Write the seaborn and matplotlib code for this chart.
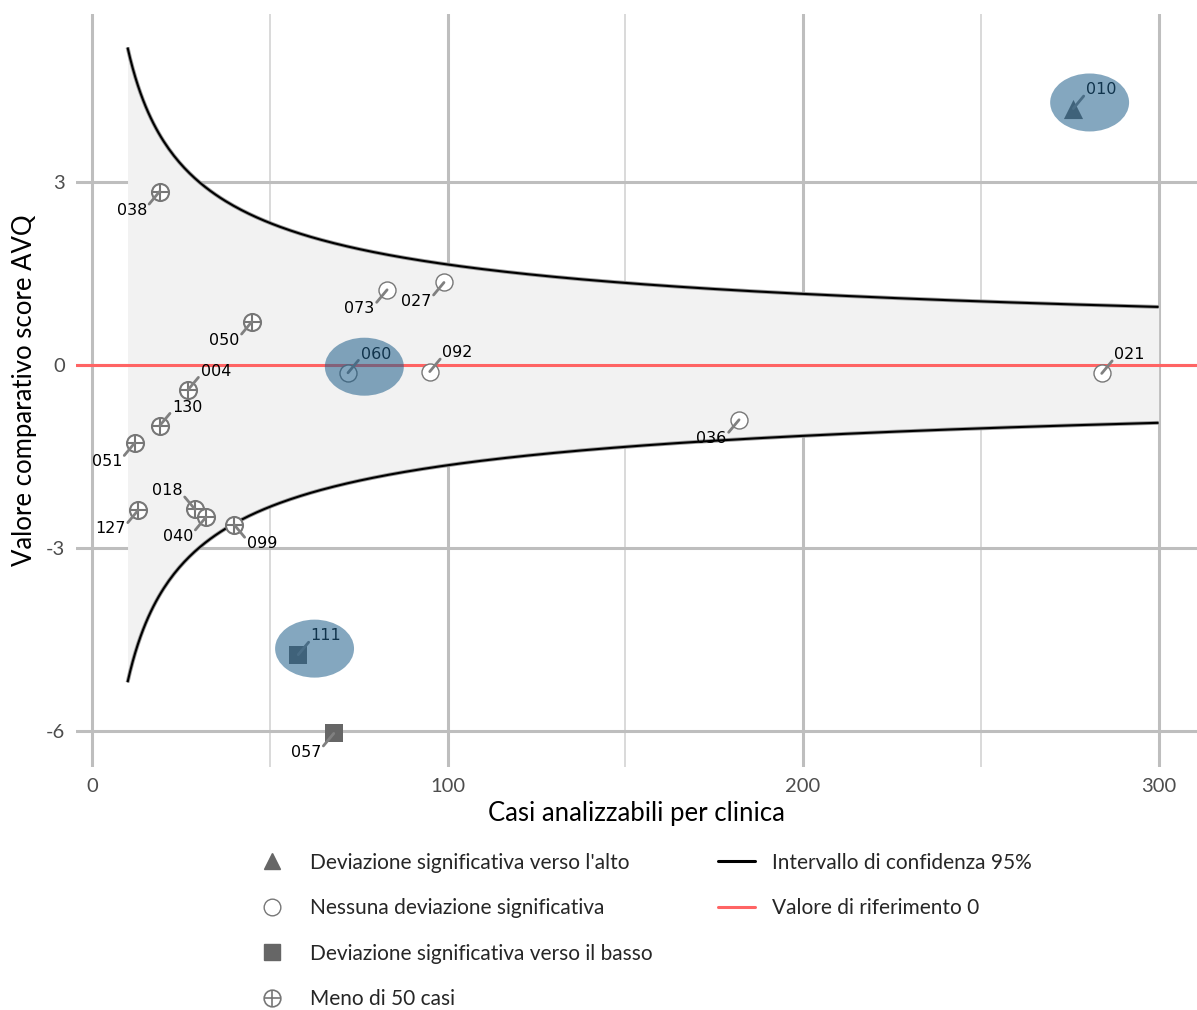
"""Funnel plot: AVQ comparative score per clinic vs analysable cases."""
import numpy as np
import pandas as pd
import matplotlib
matplotlib.use("Agg")
import matplotlib.pyplot as plt
from matplotlib.lines import Line2D
from matplotlib.patches import Ellipse
import seaborn as sns

# --- data ---
clinic_ids = ["038", "050", "004", "130", "051", "127", "018", "040", "099",
              "073", "027", "060", "092", "036", "021", "010", "111", "057"]
cases = [19, 45, 27, 19, 12, 13, 29, 32, 40,
         83, 99, 72, 95, 182, 284, 276, 58, 68]
scores = [2.84, 0.71, -0.41, -1.0, -1.28, -2.38, -2.37, -2.50, -2.62,
          1.23, 1.35, -0.13, -0.11, -0.90, -0.14, 4.20, -4.75, -6.04]
groups = ["meno50"] * 9 + ["nessuna"] * 6 + ["alto", "basso", "basso"]
label_dir = ["ll", "ll", "ur", "ur", "ll", "ll", "ul", "ll", "lr",
             "ll", "ll", "ur", "ur", "ll", "ur", "ur", "ur", "ll"]
highlighted = ["060", "010", "111"]
ci_const = 16.45          # 1.96 * sd, half-width of the 95% band at n=1
n_min, n_max = 10, 300
ref_value = 0

df = pd.DataFrame({"id": clinic_ids, "n": cases, "score": scores, "gruppo": groups, "dir": label_dir})

sns.set_theme(style="whitegrid")
plt.rcParams["font.family"] = ["Lato", "DejaVu Sans"]
plt.rcParams["axes.unicode_minus"] = False

fig = plt.figure(figsize=(11.97, 10.10), dpi=100)
ax = fig.add_axes([76 / 1197, 1 - 767 / 1010, 1 - 76 / 1197, (767 - 14) / 1010])

# funnel band
nn = np.linspace(n_min, n_max, 400)
half = ci_const / np.sqrt(nn)
ax.fill_between(nn, -half, half, color="#f2f2f2", lw=0, zorder=1)
for sgn in (1, -1):
    ax.plot(nn, sgn * half, color="#9a9a9a", lw=2.8, zorder=2, solid_capstyle="butt")
    ax.plot(nn, sgn * half, color="black", lw=1.5, zorder=3, solid_capstyle="butt")
ax.axhline(ref_value, color="#ff6464", lw=2.2, zorder=3)

# points
grey = "#666666"
sub = df[df.gruppo == "meno50"]
sns.scatterplot(data=sub, x="n", y="score", marker="o", s=150, color="white",
                edgecolor="#777777", linewidth=1.5, ax=ax, zorder=5)
sns.scatterplot(data=sub, x="n", y="score", marker="+", s=150, color="#777777",
                linewidth=1.5, ax=ax, zorder=6)
sub = df[df.gruppo == "nessuna"]
sns.scatterplot(data=sub, x="n", y="score", marker="o", s=150, color="white",
                edgecolor="#777777", linewidth=1.0, ax=ax, zorder=5)
sub = df[df.gruppo == "alto"]
sns.scatterplot(data=sub, x="n", y="score", marker="^", s=190, color=grey,
                edgecolor=grey, linewidth=0, ax=ax, zorder=5)
sub = df[df.gruppo == "basso"]
sns.scatterplot(data=sub, x="n", y="score", marker="s", s=160, color=grey,
                edgecolor=grey, linewidth=0, ax=ax, zorder=5)

# labels with short leader lines
offs = {"ll": (-1, -1), "ur": (1, 1), "ul": (-1, 1), "lr": (1, -1)}
for _, r in df.iterrows():
    sx, sy = offs[r["dir"]]
    ax.annotate("", xy=(r["n"], r["score"]), xytext=(sx * 7.5, sy * 9), textcoords="offset points",
                arrowprops=dict(arrowstyle="-", color="#808080", lw=2.0, shrinkA=0, shrinkB=0), zorder=7)
    ax.annotate(r["id"], xy=(r["n"], r["score"]), xytext=(sx * 20, sy * 13.5), textcoords="offset points",
                ha="center", va="center", fontsize=11.5, family="DejaVu Sans", color="black", zorder=8)

# highlight ellipses
for cid in highlighted:
    r = df[df.id == cid].iloc[0]
    ax.add_patch(Ellipse((r["n"] + 4.6, r["score"] + 0.1), width=22.2, height=0.95,
                         facecolor="#1f5f8b", alpha=0.55, lw=0, zorder=9))

# axes styling
ax.set_xlim(-4.5, 310.8)
ax.set_ylim(-6.59, 5.75)
ax.set_xticks([0, 100, 200, 300])
ax.set_xticks([50, 150, 250], minor=True)
ax.set_yticks([-6, -3, 0, 3])
ax.grid(which="major", color="#bebebe", lw=2.2)
ax.grid(which="minor", axis="x", color="#cfcfcf", lw=1.1)
ax.set_facecolor("white")
for s in ax.spines.values():
    s.set_visible(False)
ax.tick_params(axis="both", labelsize=14.5, labelcolor="#4d4d4d", length=0, pad=8)
ax.set_xlabel("Casi analizzabili per clinica", fontsize=18.5, color="black", labelpad=4)
ax.set_ylabel("Valore comparativo score AVQ", fontsize=18.5, color="black", labelpad=6)

# legend
h1 = [Line2D([], [], ls="", marker="^", ms=12, color=grey),
      Line2D([], [], ls="", marker="o", ms=12, mfc="white", mec="#777777", mew=1.0),
      Line2D([], [], ls="", marker="s", ms=11, color=grey),
      (Line2D([], [], ls="", marker="o", ms=12, mfc="white", mec="#777777", mew=1.2),
       Line2D([], [], ls="", marker="+", ms=12, mec="#777777", mew=1.2))]
l1 = ["Deviazione significativa verso l'alto", "Nessuna deviazione significativa",
      "Deviazione significativa verso il basso", "Meno di 50 casi"]
h2 = [Line2D([], [], color="black", lw=2.2), Line2D([], [], color="#ff6464", lw=2.2)]
l2 = ["Intervallo di confidenza 95%", "Valore di riferimento 0"]
leg1 = fig.legend(h1, l1, loc="upper left", bbox_to_anchor=(237 / 1197, 1 - 834 / 1010), frameon=False,
                  fontsize=15, labelspacing=1.22, handlelength=1.6, handletextpad=1.0)
leg2 = fig.legend(h2, l2, loc="upper left", bbox_to_anchor=(699 / 1197, 1 - 834 / 1010), frameon=False,
                  fontsize=15, labelspacing=1.22, handlelength=1.8, handletextpad=0.8)

fig.savefig("out.png", dpi=100)
